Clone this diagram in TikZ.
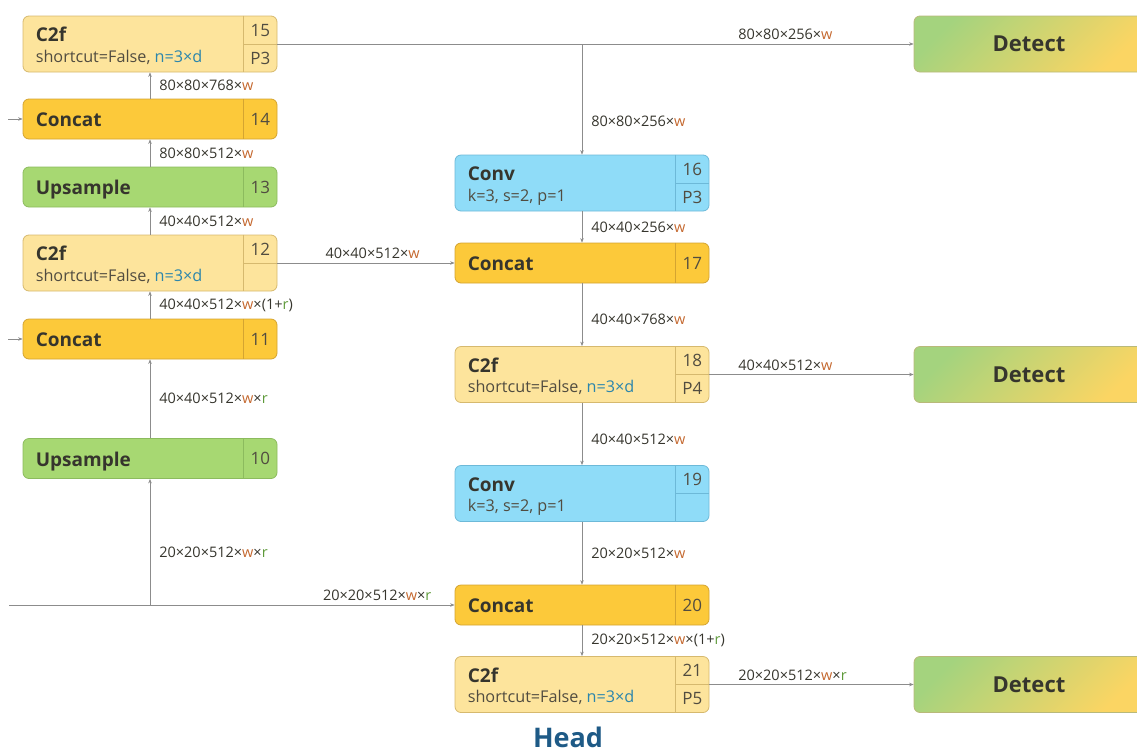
\documentclass[tikz,border=0pt]{standalone}
\usepackage{fontspec}
\setmainfont{Open Sans}
\usetikzlibrary{arrows.meta,calc}

\definecolor{c2fFill}{HTML}{FDE49C}
\definecolor{c2fLine}{HTML}{D6B96E}
\definecolor{catFill}{HTML}{FCC93A}
\definecolor{catLine}{HTML}{D4A431}
\definecolor{upFill}{HTML}{A7D872}
\definecolor{upLine}{HTML}{8CBB5E}
\definecolor{convFill}{HTML}{8FDCF8}
\definecolor{convLine}{HTML}{6DB9D8}
\definecolor{detG}{HTML}{A4D37E}
\definecolor{detY}{HTML}{FBD563}
\definecolor{detLine}{HTML}{B9B97A}
\definecolor{ink}{HTML}{36352D}
\definecolor{subink}{HTML}{514C40}
\definecolor{wire}{HTML}{8C8C8C}
\definecolor{wcol}{HTML}{C4682F}
\definecolor{rcol}{HTML}{5E9A3A}
\definecolor{dcol}{HTML}{2C86AC}
\definecolor{headcol}{HTML}{1E5A86}

% coloured factors in the tensor shapes
\newcommand\wv{\textcolor{wcol}{w}}
\newcommand\rv{\textcolor{rcol}{r}}
\newcommand\dv{\textcolor{dcol}{n=3×d}}

% block with two text lines and a split index cell
\newcommand\tallbox[7]{%
  \node[#3 box, minimum height=56] (#1) at #2 {};
  \draw[#3 div] ($(#1.north east)+(-34,0)$) -- ($(#1.south east)+(-34,0)$)
                ($(#1.east)+(-34,0)$) -- (#1.east);
  \node[ttl, anchor=base west] (#1-t) at ($(#1.north west)+(13,26)$) {#4};
  \node[sub, anchor=base west] (#1-s) at ($(#1.north west)+(13,46.5)$) {#5};
  \node[idx] (#1-i) at ($(#1.north east)+(-17,14.5)$) {#6};
  \node[idx] (#1-p) at ($(#1.north east)+(-17,42.5)$) {#7};
}
% single-line block with an index cell
\newcommand\flatbox[5]{%
  \node[#3 box, minimum height=40] (#1) at #2 {};
  \draw[#3 div] ($(#1.north east)+(-34,0)$) -- ($(#1.south east)+(-34,0)$);
  \node[ttl, anchor=base west] (#1-t) at ($(#1.west)+(13,7.5)$) {#4};
  \node[idx] (#1-i) at ($(#1.east)+(-17,0)$) {#5};
}

\begin{document}
\begin{tikzpicture}[x=1pt,y=-1pt,
  base box/.style={rounded corners=6, line width=0.8pt, minimum width=254, inner sep=0},
  c2f box/.style={base box, draw=c2fLine, fill=c2fFill},
  c2f div/.style={draw=c2fLine, line width=0.8pt},
  cat box/.style={base box, draw=catLine, fill=catFill},
  cat div/.style={draw=catLine, line width=0.8pt},
  up box/.style={base box, draw=upLine, fill=upFill},
  up div/.style={draw=upLine, line width=0.8pt},
  conv box/.style={base box, draw=convLine, fill=convFill},
  conv div/.style={draw=convLine, line width=0.8pt},
  detect/.style={rounded corners=6, line width=0.8pt, draw=detLine,
    left color=detG, right color=detY, shading angle=45,
    minimum width=230, minimum height=56, inner sep=0,
    font=\fontsize{22}{26}\selectfont\bfseries, text=ink},
  ttl/.style={font=\fontsize{19}{23}\selectfont\bfseries, text=ink, inner sep=0},
  sub/.style={font=\fontsize{16.2}{19}\selectfont, text=subink, inner sep=0},
  idx/.style={font=\fontsize{17}{20}\selectfont, text=subink, inner sep=0},
  flow/.style={draw=wire, line width=0.6pt, -{Stealth[length=4.5pt,width=3.5pt]}},
  vlab/.style={font=\fontsize{14.5}{17}\selectfont, text=ink, inner sep=0, anchor=west, xshift=9},
  hlab/.style={font=\fontsize{14.5}{17}\selectfont, text=ink, inner sep=0, anchor=south west, yshift=4},
]
\useasboundingbox (0,0) rectangle (1137,753);
\clip (0,0) rectangle (1137,753);

% left column (top-down path)
\tallbox{n15}{(150,44)}{c2f}{C2f}{shortcut=False, \dv}{15}{P3}
\flatbox{n14}{(150,119)}{cat}{Concat}{14}
\flatbox{n13}{(150,187)}{up}{Upsample}{13}
\tallbox{n12}{(150,263)}{c2f}{C2f}{shortcut=False, \dv}{12}{}
\flatbox{n11}{(150,339)}{cat}{Concat}{11}
\flatbox{n10}{(150,458.5)}{up}{Upsample}{10}

% middle column (bottom-up path)
\tallbox{n16}{(582,183)}{conv}{Conv}{k=3, s=2, p=1}{16}{P3}
\flatbox{n17}{(582,263)}{cat}{Concat}{17}
\tallbox{n18}{(582,374.5)}{c2f}{C2f}{shortcut=False, \dv}{18}{P4}
\tallbox{n19}{(582,493.5)}{conv}{Conv}{k=3, s=2, p=1}{19}{}
\flatbox{n20}{(582,605)}{cat}{Concat}{20}
\tallbox{n21}{(582,684.5)}{c2f}{C2f}{shortcut=False, \dv}{21}{P5}

% detection heads
\node[detect] (d1) at (1029,44) {Detect};
\node[detect] (d2) at (1029,374.5) {Detect};
\node[detect] (d3) at (1029,684.5) {Detect};

% free ends of the incoming feature maps
\coordinate (in14) at (8,119);
\coordinate (in11) at (8,339);
\coordinate (in20) at (9,605);
\coordinate (j10) at (150,605);
\coordinate (b15) at (582,44);

% connectors
\draw[flow] (in14) -- (n14.west);
\draw[flow] (in11) -- (n11.west);
\draw[flow] (in20) -- node[hlab, pos=0.704] (l20) {20×20×512×\wv×\rv} (n20.west);
\draw[flow] (j10) -- node[vlab, pos=0.42] (l10) {20×20×512×\wv×\rv} (n10.south);
\draw[flow] (n10.north) -- node[vlab] (l11) {40×40×512×\wv×\rv} (n11.south);
\draw[flow] (n11.north) -- node[vlab] (l12) {40×40×512×\wv×(1+\rv)} (n12.south);
\draw[flow] (n12.north) -- node[vlab] (l13) {40×40×512×\wv} (n13.south);
\draw[flow] (n13.north) -- node[vlab] (l14) {80×80×512×\wv} (n14.south);
\draw[flow] (n14.north) -- node[vlab] (l15) {80×80×768×\wv} (n15.south);

\draw[flow] (n15.east) -- node[hlab, pos=0.724] (ld1) {80×80×256×\wv} (d1.west);
\draw[flow] (b15) -- node[vlab, pos=0.7] (l16) {80×80×256×\wv} (n16.north);
\draw[flow] (n12.east) -- node[hlab, pos=0.27] (l17h) {40×40×512×\wv} (n17.west);
\draw[flow] (n16.south) -- node[vlab] (l17) {40×40×256×\wv} (n17.north);
\draw[flow] (n17.south) -- node[vlab, pos=0.57] (l18) {40×40×768×\wv} (n18.north);
\draw[flow] (n18.east) -- node[hlab, pos=0.14] (ld2) {40×40×512×\wv} (d2.west);
\draw[flow] (n18.south) -- node[vlab, pos=0.58] (l19) {40×40×512×\wv} (n19.north);
\draw[flow] (n19.south) -- node[vlab] (l20v) {20×20×512×\wv} (n20.north);
\draw[flow] (n20.south) -- node[vlab] (l21) {20×20×512×\wv×(1+\rv)} (n21.north);
\draw[flow] (n21.east) -- node[hlab, pos=0.14] (ld3) {20×20×512×\wv×\rv} (d3.west);

% section title
\node[font=\fontsize{27}{31}\selectfont\bfseries, text=headcol, anchor=base, inner sep=0] (head) at (568,747) {Head};
\end{tikzpicture}
\end{document}
